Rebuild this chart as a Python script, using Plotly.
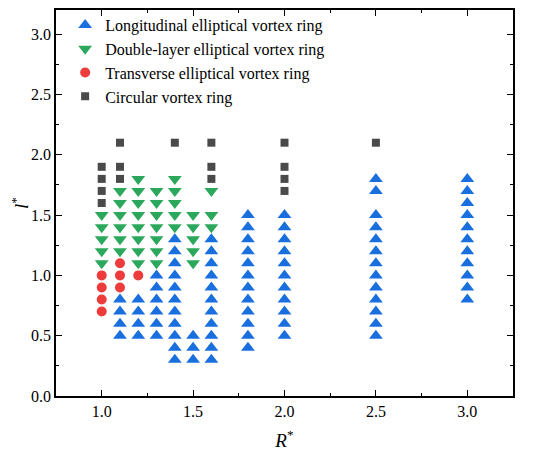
import plotly.graph_objects as go

# R* values and the l* values observed for each regime
long_R = [1.1] * 4 + [1.2] * 4 + [1.3] * 6 + [1.4] * 11 + [1.5] * 3 + [1.6] * 11 \
    + [1.8] * 12 + [2.0] * 11 + [2.5] * 13 + [3.0] * 11
long_l = [0.8, 0.7, 0.6, 0.5,
          0.8, 0.7, 0.6, 0.5,
          1.0, 0.9, 0.8, 0.7, 0.6, 0.5,
          1.3, 1.2, 1.1, 1.0, 0.9, 0.8, 0.7, 0.6, 0.5, 0.4, 0.3,
          0.5, 0.4, 0.3,
          1.3, 1.2, 1.1, 1.0, 0.9, 0.8, 0.7, 0.6, 0.5, 0.4, 0.3,
          1.5, 1.4, 1.3, 1.2, 1.1, 1.0, 0.9, 0.8, 0.7, 0.6, 0.5, 0.4,
          1.5, 1.4, 1.3, 1.2, 1.1, 1.0, 0.9, 0.8, 0.7, 0.6, 0.5,
          1.8, 1.7, 1.5, 1.4, 1.3, 1.2, 1.1, 1.0, 0.9, 0.8, 0.7, 0.6, 0.5,
          1.8, 1.7, 1.6, 1.5, 1.4, 1.3, 1.2, 1.1, 1.0, 0.9, 0.8]

double_R = [1.0] * 5 + [1.1] * 6 + [1.2] * 8 + [1.3] * 7 + [1.4] * 5 + [1.5] * 5 + [1.6] * 3
double_l = [1.5, 1.4, 1.3, 1.2, 1.1,
            1.7, 1.6, 1.5, 1.4, 1.3, 1.2,
            1.8, 1.7, 1.6, 1.5, 1.4, 1.3, 1.2, 1.1,
            1.7, 1.6, 1.5, 1.4, 1.3, 1.2, 1.1,
            1.8, 1.7, 1.6, 1.5, 1.4,
            1.5, 1.4, 1.3, 1.2, 1.1,
            1.7, 1.5, 1.4]

trans_R = [1.0] * 4 + [1.1] * 3 + [1.2]
trans_l = [1.0, 0.9, 0.8, 0.7,
           1.1, 1.0, 0.9,
           1.0]

circ_R = [1.0] * 4 + [1.1] * 3 + [1.4] + [1.6] * 3 + [2.0] * 4 + [2.5]
circ_l = [1.9, 1.8, 1.7, 1.6,
          2.1, 1.9, 1.8,
          2.1,
          2.1, 1.9, 1.8,
          2.1, 1.9, 1.8, 1.7,
          2.1]

font_family = "Liberation Serif"

fig = go.Figure()
fig.add_trace(go.Scatter(x=long_R, y=long_l, mode="markers", name="Longitudinal elliptical vortex ring",
                         marker=dict(symbol="triangle-up", size=12, color="#1a6fdf")))
fig.add_trace(go.Scatter(x=double_R, y=double_l, mode="markers", name="Double-layer elliptical vortex ring",
                         marker=dict(symbol="triangle-down", size=12, color="#2ca85c")))
fig.add_trace(go.Scatter(x=trans_R, y=trans_l, mode="markers", name="Transverse elliptical vortex ring",
                         marker=dict(symbol="circle", size=10, color="#ee3b3b")))
fig.add_trace(go.Scatter(x=circ_R, y=circ_l, mode="markers", name="Circular vortex ring",
                         marker=dict(symbol="square", size=8, color="#4a4a4a")))

axis_style = dict(showline=True, linecolor="black", linewidth=1.5, mirror="ticks",
                  ticks="inside", ticklen=6, tickwidth=1.3, tickcolor="black",
                  showgrid=False, zeroline=False, tickformat=".1f", automargin=False,
                  tickfont=dict(family=font_family, size=16, color="black"))

fig.update_xaxes(range=[0.75, 3.25], dtick=0.5, tick0=0,
                 minor=dict(ticks="inside", ticklen=3, dtick=0.25, tickcolor="black"),
                 title=dict(text="<i>R</i><sup>*</sup>", font=dict(family=font_family, size=19, color="black"),
                            standoff=15),
                 **axis_style)
fig.update_yaxes(range=[0, 3.2], dtick=0.5, tick0=0,
                 minor=dict(ticks="inside", ticklen=3, dtick=0.25, tickcolor="black"),
                 title=dict(text="<i>l</i><sup>*</sup>", font=dict(family=font_family, size=19, color="black"),
                            standoff=16),
                 **axis_style)

# page body adds an 8px offset, so the figure is slightly smaller than the window
fig.update_layout(
    width=542, height=445,
    font=dict(family=font_family, color="black"),
    margin=dict(l=48, r=37, t=0, b=57),
    plot_bgcolor="white", paper_bgcolor="white",
    legend=dict(x=0.02, y=1.005, xanchor="left", yanchor="top", bgcolor="rgba(0,0,0,0)",
                font=dict(family=font_family, size=16, color="black"), tracegroupgap=0,
                itemwidth=30),
)

fig.write_html("out.html")
